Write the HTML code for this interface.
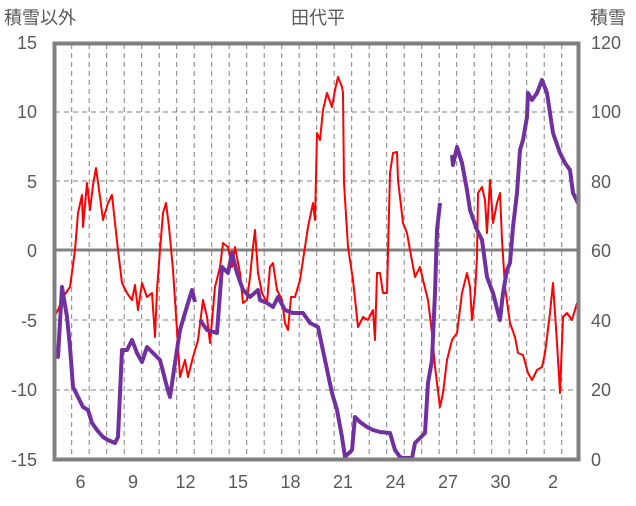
<!DOCTYPE html>
<html><head><meta charset="utf-8"><style>
body{margin:0;background:#fff;}
svg text{font-family:"Liberation Sans","Noto Sans CJK JP",sans-serif;fill:#595959;font-size:18px;}
</style></head><body>
<svg width="636" height="501" viewBox="0 0 636 501" xmlns="http://www.w3.org/2000/svg">
<g stroke="#808080" stroke-width="1" stroke-dasharray="5,4">
<line x1="55" y1="112" x2="578" y2="112"/><line x1="55" y1="181" x2="578" y2="181"/>
<line x1="55" y1="320" x2="578" y2="320"/><line x1="55" y1="390" x2="578" y2="390"/>
<line x1="71.7" y1="44" x2="71.7" y2="458"/><line x1="89.2" y1="44" x2="89.2" y2="458"/><line x1="106.7" y1="44" x2="106.7" y2="458"/><line x1="124.2" y1="44" x2="124.2" y2="458"/><line x1="141.7" y1="44" x2="141.7" y2="458"/><line x1="159.2" y1="44" x2="159.2" y2="458"/><line x1="176.7" y1="44" x2="176.7" y2="458"/><line x1="194.2" y1="44" x2="194.2" y2="458"/><line x1="211.7" y1="44" x2="211.7" y2="458"/><line x1="229.2" y1="44" x2="229.2" y2="458"/><line x1="246.7" y1="44" x2="246.7" y2="458"/><line x1="264.2" y1="44" x2="264.2" y2="458"/><line x1="281.7" y1="44" x2="281.7" y2="458"/><line x1="299.2" y1="44" x2="299.2" y2="458"/><line x1="316.7" y1="44" x2="316.7" y2="458"/><line x1="334.2" y1="44" x2="334.2" y2="458"/><line x1="351.7" y1="44" x2="351.7" y2="458"/><line x1="369.2" y1="44" x2="369.2" y2="458"/><line x1="386.7" y1="44" x2="386.7" y2="458"/><line x1="404.2" y1="44" x2="404.2" y2="458"/><line x1="421.7" y1="44" x2="421.7" y2="458"/><line x1="439.2" y1="44" x2="439.2" y2="458"/><line x1="456.7" y1="44" x2="456.7" y2="458"/><line x1="474.2" y1="44" x2="474.2" y2="458"/><line x1="491.7" y1="44" x2="491.7" y2="458"/><line x1="509.2" y1="44" x2="509.2" y2="458"/><line x1="526.7" y1="44" x2="526.7" y2="458"/><line x1="544.2" y1="44" x2="544.2" y2="458"/><line x1="561.7" y1="44" x2="561.7" y2="458"/>
</g>
<line x1="55" y1="250" x2="578" y2="250" stroke="#808080" stroke-width="3"/>
<polyline fill="none" stroke="#ff0000" stroke-width="2" stroke-linejoin="round" points="54,317 58,310 63,297 70,287 75,250 78,213 82,195 83,227 87,183 90,210 93,185 96,168 100,197 103,220 108,203 112,195 115,223 118,250 122,283 127,293 132,300 135,285 138,310 142,283 147,297 152,293 155,337 157,290 160,250 163,213 166,203 169,227 173,270 177,330 180,377 185,360 188,377 193,357 198,340 203,300 207,317 210,343 215,287 220,267 223,243 228,247 232,267 235,247 240,273 243,303 247,300 250,277 253,247 255,230 258,273 262,293 267,303 270,267 273,263 277,290 282,300 285,323 288,330 291,297 295,297 300,280 303,260 308,227 313,203 315,220 317,133 320,140 323,110 327,93 332,107 335,90 338,77 342,87 343,93 344,183 348,247 353,280 358,327 363,317 368,320 373,310 375,340 377,273 380,273 383,293 387,293 390,173 393,153 397,152 398,180 403,223 407,233 410,250 415,277 420,267 423,280 428,300 432,333 435,367 440,407 443,393 447,360 452,340 457,333 462,293 467,273 470,287 472,320 475,293 477,257 478,193 482,187 485,200 487,233 490,180 493,223 497,203 500,193 502,240 505,287 510,323 515,337 518,353 523,355 528,373 532,380 537,370 542,367 545,353 550,313 553,283 557,343 560,393 563,317 567,313 572,320 577,303"/>
<g fill="none" stroke="#7030a0" stroke-width="4" stroke-linejoin="round">
<polyline points="54,347 58,357 62,287 67,317 70,347 73,387 78,397 83,407 88,410 92,423 97,430 103,437 108,440 115,443 118,437 122,350 127,350 132,340 137,353 142,362 147,347 153,353 160,360 167,387 170,397 175,363 180,330 185,313 192,290 195,302"/>
<polyline points="200,320 207,330 217,333 222,267 228,273 232,253 237,273 243,290 250,297 258,290 260,300 267,303 273,307 278,297 285,310 293,313 303,313 310,323 318,327 325,360 332,393 337,410 342,437 345,457 352,450 355,417 360,422 367,427 373,430 380,432 390,433 395,450 400,457 403,458 412,458 415,443 420,438 425,433 428,383 432,360 435,293 437,230 440,203"/>
<polyline points="452,155 453,165 457,147 462,163 467,190 470,210 477,230 482,240 487,277 493,293 500,320 503,293 507,270 510,263 513,227 517,193 520,150 523,140 527,117 528,93 532,100 537,93 542,80 547,93 550,113 553,133 560,153 565,163 570,170 573,193 578,203"/>
</g>
<rect x="54.5" y="43.5" width="524" height="416" fill="none" stroke="#808080" stroke-width="4"/>
<g text-anchor="end">
<text x="37" y="49">15</text><text x="37" y="118">10</text><text x="37" y="188">5</text><text x="37" y="257">0</text><text x="37" y="327">-5</text><text x="37" y="396">-10</text><text x="37" y="466">-15</text>
</g>
<g text-anchor="start">
<text x="591" y="49">120</text><text x="591" y="118">100</text><text x="591" y="188">80</text><text x="591" y="257">60</text><text x="591" y="327">40</text><text x="591" y="396">20</text><text x="591" y="466">0</text>
</g>
<g text-anchor="middle">
<text x="80.5" y="488">6</text><text x="133" y="488">9</text><text x="185.5" y="488">12</text><text x="238" y="488">15</text><text x="290.5" y="488">18</text><text x="343" y="488">21</text><text x="395.5" y="488">24</text><text x="448" y="488">27</text><text x="500.5" y="488">30</text><text x="553" y="488">2</text>
<text x="318" y="24">田代平</text>
</g>
<text x="4" y="24">積雪以外</text>
<text x="590" y="24">積雪</text>
</svg>
</body></html>
